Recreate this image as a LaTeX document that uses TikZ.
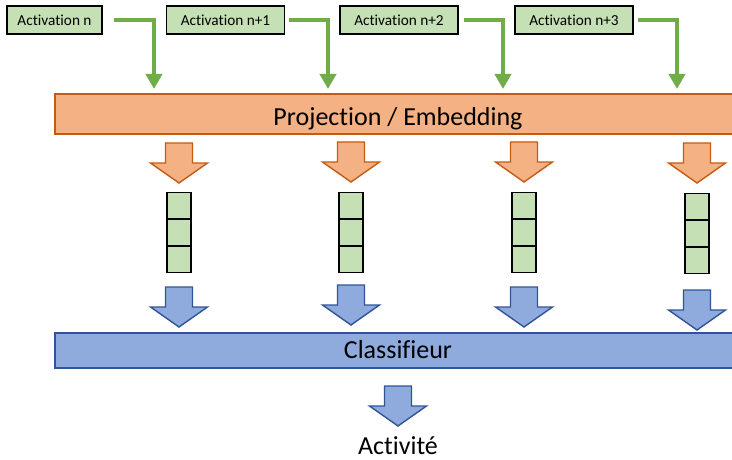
\documentclass[tikz,border=0pt]{standalone}
\usepackage{fontspec}
\setmainfont{Carlito}[Ligatures=NoCommon]
\usetikzlibrary{arrows.meta,positioning,calc}

\definecolor{actgreen}{HTML}{C5E0B4}
\definecolor{linkgreen}{HTML}{70AD47}
\definecolor{projfill}{HTML}{F4B183}
\definecolor{projline}{HTML}{C55A11}
\definecolor{classfill}{HTML}{8FAADC}
\definecolor{classline}{HTML}{2F5597}

\tikzset{
    pics/blockarrow/.style={code={
        \draw [pic actions] (-13.5,0) -- (13.5,0) -- (13.5,20) -- (28.5,20)
            -- (0,40) -- (-28.5,20) -- (-13.5,20) -- cycle;
    }}
}

\begin{document}
\begin{tikzpicture}[x=1pt,y=-1pt,
        actbox/.style={draw=black,line width=1.4pt,fill=actgreen,inner sep=0pt,
            minimum width=118pt,minimum height=28pt,font=\fontsize{15.3}{17}\selectfont},
        cell/.style={draw=black,line width=1.2pt,fill=actgreen,inner sep=0pt,
            minimum width=24pt,minimum height=25.7pt},
        bar/.style={line width=1.8pt,inner sep=0pt,minimum width=686pt,
            font=\fontsize{26}{30}\selectfont,text depth=0pt},
        link/.style={draw=linkgreen,line width=4.5pt,-{Triangle[width=16pt,length=15pt]}},
        orangearrow/.style={draw=projline,fill=projfill,line width=1.4pt},
        bluearrow/.style={draw=classline,fill=classfill,line width=1.4pt}]

                \useasboundingbox (0,0) rectangle (732,460);

                % activations
                \node [actbox,minimum width=95pt] (act1) at (54.5,20) {Activation n};
                \node [actbox] (act2) at (225.5,20) {Activation n+1};
                \node [actbox] (act3) at (399,20) {Activation n+2};
                \node [actbox] (act4) at (574,20) {Activation n+3};

                % bars
                \node [bar,draw=projline,fill=projfill,minimum height=40pt,
                    text height=22pt] (proj) at (398,114) {Projection / Embedding};
                \node [bar,draw=classline,fill=classfill,minimum height=35pt,
                    text height=15pt] (classif) at (398,350.5) {Classifieur};

                \foreach \i/\cx/\gap in {1/154/11,2/328/4,3/503/5,4/677/4}
                {
                    \coordinate (tip\i) at (\cx,89);
                    \draw [link,shorten <=\gap pt] (act\i.east) -| (tip\i);
                }

                \foreach \i/\x/\ot/\st/\bt in {1/179/143/192/287,2/351/142/192/285,3/524/142/192/287,4/697/143/193/290}
                {
                    \pic [orangearrow] at (\x,\ot) {blockarrow};
                    \node [cell,anchor=north] (emb\i a) at (\x,\st) {};
                    \node [cell,below=0pt of emb\i a] (emb\i b) {};
                    \node [cell,below=0pt of emb\i b] (emb\i c) {};
                    \pic [bluearrow] at (\x,\bt) {blockarrow};
                }

                \pic [bluearrow] at (398,386) {blockarrow};
                \node [font=\fontsize{26}{30}\selectfont] (out) at (398,446) {Activité};

                %\node at (398,447) {Activité};
            \end{tikzpicture}
\end{document}
